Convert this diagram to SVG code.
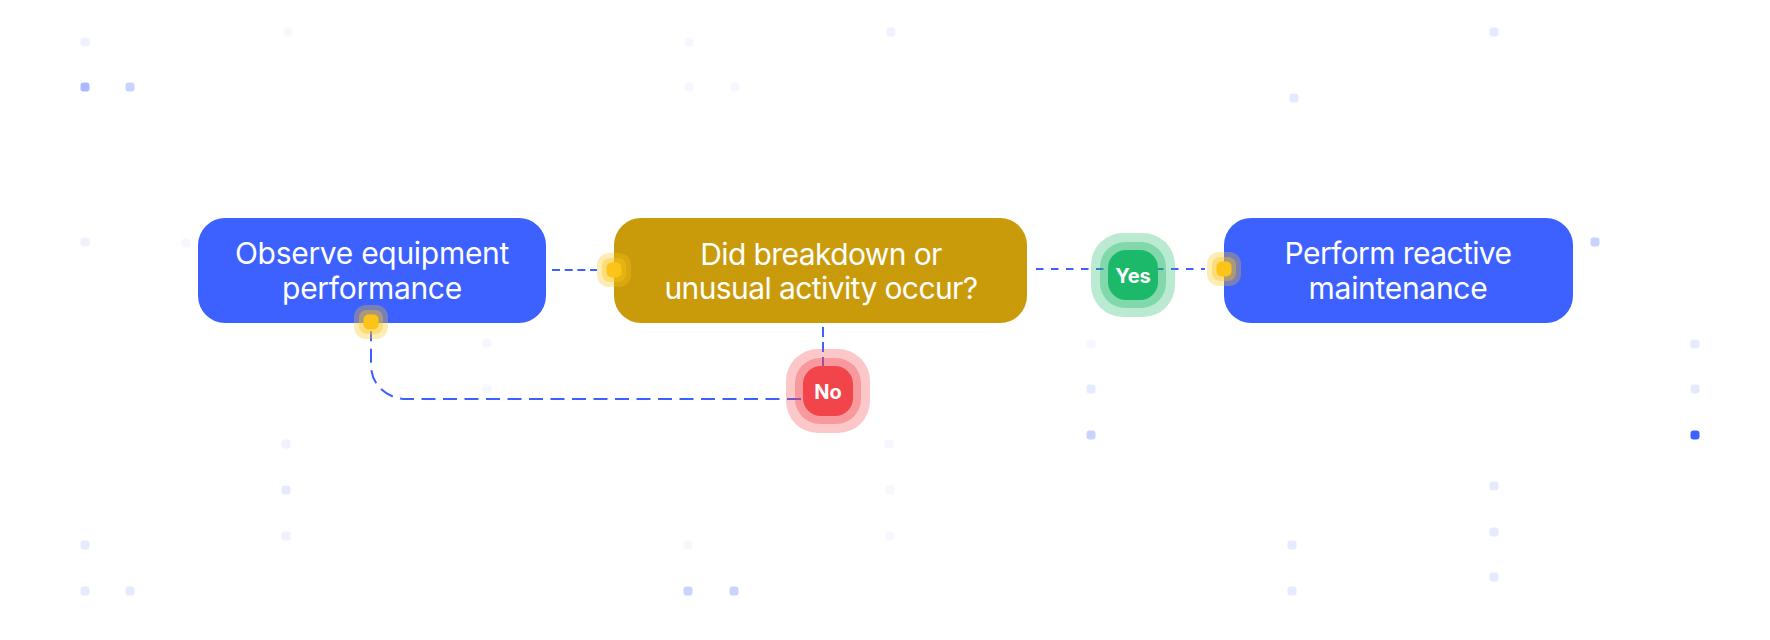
<svg xmlns="http://www.w3.org/2000/svg" width="1770" height="640" viewBox="0 0 1770 640">
<style>
.bg{fill:#ffffff}
.node-blue{fill:#3D61FF}
.node-gold{fill:#C99B0B}
.label{font-family:Inter,"Noto Sans","Liberation Sans",sans-serif;font-size:30px;letter-spacing:-0.3px;fill:#ffffff;text-anchor:middle}
.badge-text{font-family:Inter,"Noto Sans","Liberation Sans",sans-serif;font-size:20px;font-weight:700;fill:#ffffff;text-anchor:middle}
.conn{fill:none;stroke:#3D61FF;stroke-width:2}
.y-in{fill:#FCC419}
.y-halo{fill:#FCC419}
.g{fill:#1DB96A}
.r{fill:#F2454B}
.d1{fill:#F7F8FF}.d2{fill:#EFF2FE}.d3{fill:#E5EAFE}.d4{fill:#C8D3FF}.d5{fill:#A9B9FF}.d6{fill:#3D61FF}
</style>
<rect class="bg" x="0" y="0" width="1770" height="640"/>
<g id="background-dots">
<rect class="d2" x="80.5" y="37.5" width="9" height="9" rx="3"/>
<rect class="d1" x="283.5" y="27.5" width="9" height="9" rx="3"/>
<rect class="d1" x="684.5" y="37.5" width="9" height="9" rx="3"/>
<rect class="d2" x="886.5" y="27.5" width="9" height="9" rx="3"/>
<rect class="d5" x="80.5" y="82.5" width="9" height="9" rx="3"/>
<rect class="d4" x="125.5" y="82.5" width="9" height="9" rx="3"/>
<rect class="d1" x="684.5" y="82.5" width="9" height="9" rx="3"/>
<rect class="d1" x="730.5" y="82.5" width="9" height="9" rx="3"/>
<rect class="d3" x="1489.5" y="27.5" width="9" height="9" rx="3"/>
<rect class="d3" x="1289.5" y="93.5" width="9" height="9" rx="3"/>
<rect class="d2" x="80.5" y="237.5" width="9" height="9" rx="3"/>
<rect class="d1" x="181.5" y="238.5" width="9" height="9" rx="3"/>
<rect class="d4" x="1590.5" y="237.5" width="9" height="9" rx="3"/>
<rect class="d1" x="482.5" y="338.5" width="9" height="9" rx="3"/>
<rect class="d1" x="482.5" y="384.5" width="9" height="9" rx="3"/>
<rect class="d1" x="884.5" y="439.5" width="9" height="9" rx="3"/>
<rect class="d2" x="281.5" y="439.5" width="9" height="9" rx="3"/>
<rect class="d3" x="281.5" y="485.5" width="9" height="9" rx="3"/>
<rect class="d2" x="281.5" y="531.5" width="9" height="9" rx="3"/>
<rect class="d3" x="80.5" y="540.5" width="9" height="9" rx="3"/>
<rect class="d3" x="80.5" y="586.5" width="9" height="9" rx="3"/>
<rect class="d3" x="125.5" y="586.5" width="9" height="9" rx="3"/>
<rect class="d1" x="683.5" y="540.5" width="9" height="9" rx="3"/>
<rect class="d4" x="683.5" y="586.5" width="9" height="9" rx="3"/>
<rect class="d4" x="729.5" y="586.5" width="9" height="9" rx="3"/>
<rect class="d1" x="885.5" y="485.5" width="9" height="9" rx="3"/>
<rect class="d1" x="885.5" y="531.5" width="9" height="9" rx="3"/>
<rect class="d1" x="1086.5" y="339.5" width="9" height="9" rx="3"/>
<rect class="d3" x="1086.5" y="384.5" width="9" height="9" rx="3"/>
<rect class="d4" x="1086.5" y="430.5" width="9" height="9" rx="3"/>
<rect class="d3" x="1690.5" y="339.5" width="9" height="9" rx="3"/>
<rect class="d3" x="1690.5" y="384.5" width="9" height="9" rx="3"/>
<rect class="d6" x="1690.5" y="430.5" width="9" height="9" rx="3"/>
<rect class="d3" x="1489.5" y="481.5" width="9" height="9" rx="3"/>
<rect class="d3" x="1489.5" y="527.5" width="9" height="9" rx="3"/>
<rect class="d3" x="1489.5" y="572.5" width="9" height="9" rx="3"/>
<rect class="d3" x="1287.5" y="540.5" width="9" height="9" rx="3"/>
<rect class="d3" x="1287.5" y="586.5" width="9" height="9" rx="3"/>
</g>
<g id="connectors">
<path class="conn" d="M552,270 L597,270" stroke-dasharray="8 4.7"/>
<path class="conn" d="M1036,269 L1205,269" stroke-dasharray="7.5 7.5"/>
<path class="conn" d="M823,327 L823,366" stroke-dasharray="10 5"/>
<path class="conn" d="M801,399 L407,399 C387,399 371,385 371,365 L371,331" stroke-dasharray="14 7.5"/>
</g>
<g id="node-observe">
<rect class="node-blue" x="198" y="218" width="348" height="105" rx="27"/>
<text class="label" x="372" y="264">Observe equipment</text>
<text class="label" x="372" y="299">performance</text>
</g>
<g id="node-decision">
<rect class="node-gold" x="614" y="218" width="413" height="105" rx="27"/>
<text class="label" x="821" y="265" style="letter-spacing:-0.6px">Did breakdown or</text>
<text class="label" x="821" y="299" style="letter-spacing:-0.6px">unusual activity occur?</text>
</g>
<g id="node-perform">
<rect class="node-blue" x="1224" y="218" width="349" height="105" rx="27"/>
<text class="label" x="1398" y="264" style="letter-spacing:-0.6px">Perform reactive</text>
<text class="label" x="1398" y="299">maintenance</text>
</g>
<g id="port-decision-in">
<rect class="y-halo" x="597" y="253" width="34" height="34" rx="12" opacity="0.32"/>
<rect class="y-halo" x="602" y="258" width="24" height="24" rx="8" opacity="0.38"/>
<rect class="y-in" x="606.5" y="262.5" width="15" height="15" rx="5"/>
</g>
<g id="port-perform-in">
<rect class="y-halo" x="1207" y="252" width="34" height="34" rx="12" opacity="0.32"/>
<rect class="y-halo" x="1212" y="257" width="24" height="24" rx="8" opacity="0.38"/>
<rect class="y-in" x="1216.5" y="261.5" width="15" height="15" rx="5"/>
</g>
<g id="port-observe-in">
<rect class="y-halo" x="354" y="305" width="34" height="34" rx="12" opacity="0.32"/>
<rect class="y-halo" x="359" y="310" width="24" height="24" rx="8" opacity="0.38"/>
<rect class="y-in" x="363.5" y="314.5" width="15" height="15" rx="5"/>
</g>
<g id="badge-yes">
<rect class="g" x="1091" y="233" width="84" height="84" rx="32" opacity="0.3"/>
<rect class="g" x="1100" y="242" width="66" height="66" rx="25" opacity="0.37"/>
<rect class="g" x="1108" y="250" width="50" height="50" rx="18"/>
<text class="badge-text" x="1133" y="283">Yes</text>
</g>
<g id="badge-no">
<rect class="r" x="786" y="349" width="84" height="84" rx="32" opacity="0.3"/>
<rect class="r" x="795" y="358" width="66" height="66" rx="25" opacity="0.35"/>
<rect class="r" x="803" y="366" width="50" height="50" rx="18"/>
<text class="badge-text" x="828" y="399">No</text>
</g>
</svg>
